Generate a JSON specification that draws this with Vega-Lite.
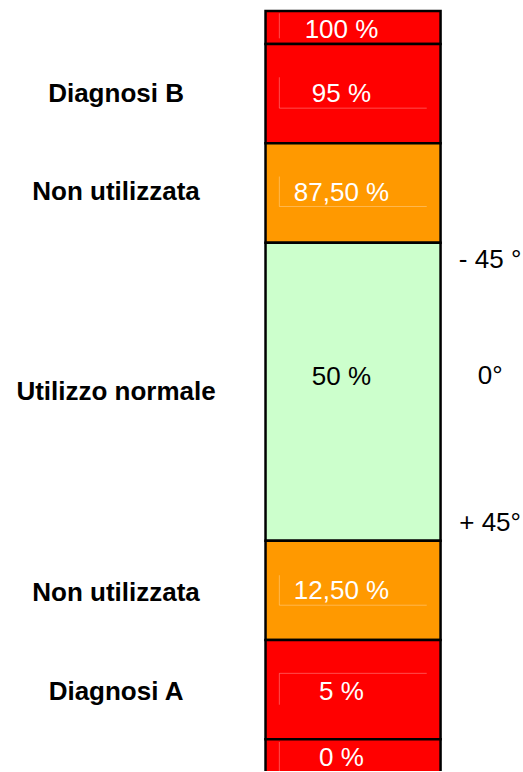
{
  "$schema": "https://vega.github.io/schema/vega-lite/v6.json",
  "width": 523,
  "height": 772,
  "autosize": {"type": "fit", "contains": "padding"},
  "padding": 0,
  "background": "white",
  "config": {"view": {"stroke": null}, "text": {"font": "Liberation Sans"}},
  "datasets": {
    "zones": [
      {"pct": "100 %", "kind": "diagnosi", "lo": 7, "hi": 7.332, "ty": 7.063},
      {"pct": "95 %", "kind": "diagnosi", "lo": 6, "hi": 7, "ty": 6.42},
      {"pct": "87,50 %", "kind": "non", "lo": 5, "hi": 6, "ty": 5.422},
      {"pct": "50 %", "kind": "normale", "lo": 2, "hi": 5, "ty": 3.572},
      {"pct": "12,50 %", "kind": "non", "lo": 1, "hi": 2, "ty": 1.41},
      {"pct": "5 %", "kind": "diagnosi", "lo": 0, "hi": 1, "ty": 0.398},
      {"pct": "0 %", "kind": "diagnosi", "lo": -0.6, "hi": 0, "ty": -0.265}
    ],
    "names": [
      {"name": "Diagnosi B", "y": 6.414},
      {"name": "Non utilizzata", "y": 5.432},
      {"name": "Utilizzo normale", "y": 3.411},
      {"name": "Non utilizzata", "y": 1.397},
      {"name": "Diagnosi A", "y": 0.398}
    ],
    "angles": [
      {"angle": "- 45 °", "y": 4.745},
      {"angle": "0°", "y": 3.579},
      {"angle": "+ 45°", "y": 2.097}
    ],
    "frames": [
      {"x": 0.079, "x2": 0.079, "y": 7.309, "y2": 7.057},
      {"x": 0.079, "x2": 0.079, "y": 6.665, "y2": 6.354},
      {"x": 0.079, "x2": 0.921, "y": 6.354, "y2": 6.354},
      {"x": 0.079, "x2": 0.079, "y": 5.666, "y2": 5.364},
      {"x": 0.079, "x2": 0.921, "y": 5.364, "y2": 5.364},
      {"x": 0.079, "x2": 0.079, "y": 1.652, "y2": 1.35},
      {"x": 0.079, "x2": 0.921, "y": 1.35, "y2": 1.35},
      {"x": 0.079, "x2": 0.079, "y": 0.664, "y2": 0.348},
      {"x": 0.079, "x2": 0.921, "y": 0.664, "y2": 0.664},
      {"x": 0.079, "x2": 0.079, "y": -0.027, "y2": -0.319}
    ]
  },
  "layer": [
    {
      "data": {"name": "zones"},
      "mark": {"type": "rect", "stroke": "black", "strokeWidth": 2.5, "clip": true},
      "encoding": {
        "x": {"datum": 0, "type": "quantitative", "scale": {"domain": [-1.517, 1.471], "nice": false, "zero": false}, "axis": null},
        "x2": {"datum": 1},
        "y": {"field": "lo", "type": "quantitative", "scale": {"domain": [-0.319, 7.443], "nice": false, "zero": false}, "axis": null},
        "y2": {"field": "hi"},
        "fill": {"field": "kind", "type": "nominal", "scale": {"domain": ["diagnosi", "non", "normale"], "range": ["#ff0000", "#ff9900", "#ccffcc"]}, "legend": null}
      }
    },
    {
      "data": {"name": "frames"},
      "mark": {"type": "rule", "stroke": "white", "strokeOpacity": 0.3, "strokeWidth": 1},
      "encoding": {
        "x": {"field": "x", "type": "quantitative"},
        "x2": {"field": "x2"},
        "y": {"field": "y", "type": "quantitative"},
        "y2": {"field": "y2"}
      }
    },
    {
      "data": {"name": "zones"},
      "mark": {"type": "text", "fontSize": 26, "baseline": "alphabetic", "align": "center"},
      "encoding": {
        "x": {"datum": 0.434, "type": "quantitative"},
        "y": {"field": "ty", "type": "quantitative"},
        "text": {"field": "pct"},
        "color": {"condition": {"test": "datum.kind === 'normale'", "value": "black"}, "value": "white"}
      }
    },
    {
      "data": {"name": "names"},
      "mark": {"type": "text", "fontSize": 26, "fontWeight": "bold", "baseline": "alphabetic", "align": "center", "color": "black"},
      "encoding": {
        "x": {"datum": -0.854, "type": "quantitative"},
        "y": {"field": "y", "type": "quantitative"},
        "text": {"field": "name"}
      }
    },
    {
      "data": {"name": "angles"},
      "mark": {"type": "text", "fontSize": 26, "baseline": "alphabetic", "align": "center", "color": "black"},
      "encoding": {
        "x": {"datum": 1.283, "type": "quantitative"},
        "y": {"field": "y", "type": "quantitative"},
        "text": {"field": "angle"}
      }
    }
  ]
}
